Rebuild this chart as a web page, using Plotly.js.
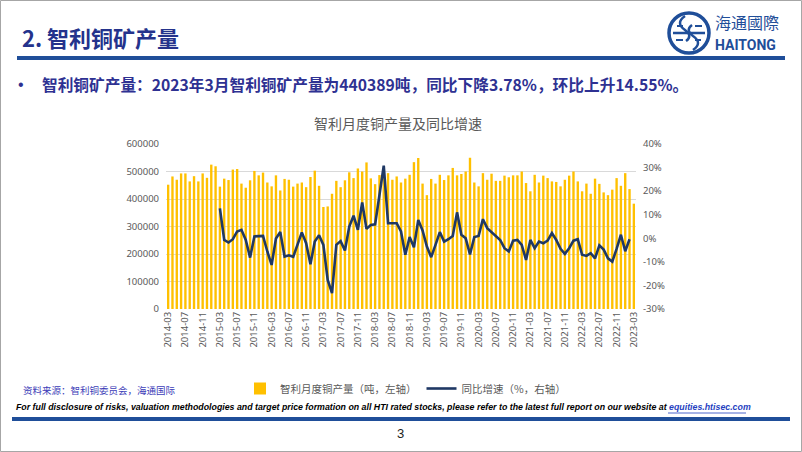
<!DOCTYPE html>
<html>
<head>
<meta charset="utf-8">
<script src="https://cdn.plot.ly/plotly-3.0.1.min.js"></script>
<style>
  html, body { margin: 0; padding: 0; background: #ffffff; }
  #chart { width: 802px; height: 452px; }
</style>
</head>
<body>
<div id="chart"></div>
<script>
// ---------- DATA ----------
const months = [
  "2014-03","2014-04","2014-05","2014-06","2014-07","2014-08","2014-09","2014-10","2014-11","2014-12",
  "2015-01","2015-02","2015-03","2015-04","2015-05","2015-06","2015-07","2015-08","2015-09","2015-10","2015-11","2015-12",
  "2016-01","2016-02","2016-03","2016-04","2016-05","2016-06","2016-07","2016-08","2016-09","2016-10","2016-11","2016-12",
  "2017-01","2017-02","2017-03","2017-04","2017-05","2017-06","2017-07","2017-08","2017-09","2017-10","2017-11","2017-12",
  "2018-01","2018-02","2018-03","2018-04","2018-05","2018-06","2018-07","2018-08","2018-09","2018-10","2018-11","2018-12",
  "2019-01","2019-02","2019-03","2019-04","2019-05","2019-06","2019-07","2019-08","2019-09","2019-10","2019-11","2019-12",
  "2020-01","2020-02","2020-03","2020-04","2020-05","2020-06","2020-07","2020-08","2020-09","2020-10","2020-11","2020-12",
  "2021-01","2021-02","2021-03","2021-04","2021-05","2021-06","2021-07","2021-08","2021-09","2021-10","2021-11","2021-12",
  "2022-01","2022-02","2022-03","2022-04","2022-05","2022-06","2022-07","2022-08","2022-09","2022-10","2022-11","2022-12",
  "2023-01","2023-02","2023-03"
];

// 智利月度铜产量（吨）
const production = [
  452000, 482000, 470000, 493000, 493000, 464000, 483000, 464000, 493000, 477000,
  525000, 519000, 445000, 474000, 469000, 507000, 509000, 456000, 441000, 468000, 502000, 486000,
  496000, 460000, 446000, 486000, 431000, 473000, 470000, 445000, 456000, 460000, 443000, 480000,
  503000, 448000, 371000, 373000, 419000, 466000, 443000, 468000, 497000, 476000, 511000, 500000,
  533000, 475000, 454000, 487000, 498000, 494000, 470000, 482000, 460000, 474000, 488000, 534000,
  549000, 456000, 414000, 473000, 456000, 488000, 469000, 486000, 513000, 486000, 491000, 500000,
  550000, 460000, 446000, 494000, 470000, 492000, 466000, 466000, 485000, 479000, 486000, 486000,
  500000, 458000, 428000, 488000, 460000, 485000, 476000, 464000, 462000, 446000, 470000, 485000,
  500000, 464000, 428000, 456000, 419000, 474000, 455000, 424000, 414000, 434000, 476000, 448000,
  494000, 436000, 383000
];

// 同比增速（%）
const yoy = [
  null, null, null, null, null, null, null, null, null, null,
  null, null, 12.7, -0.7, -1.8, -0.4, 2.9, 3.6, -0.7, -8.2, 0.8, 0.8,
  1.0, -5.6, -11.3, -0.1, 2.7, -7.8, -7.2, -7.9, -2.8, 2.5, -2.1, -11.0,
  -1.4, 1.3, -2.8, -17.7, -23.3, -2.8, -1.2, -5.2, 5.0, 9.6, 3.6, 15.2,
  4.0, 5.6, 5.9, 19.0, 30.8, 6.4, 6.4, 6.4, 2.9, -7.0, 0.5, -3.8,
  7.8, 3.3, -3.5, -8.0, -2.8, 2.6, -1.4, -0.4, 1.0, 11.0, 1.5, 0.0,
  -6.8, 0.5, 1.0, 8.1, 4.3, 2.6, 1.0, -0.7, -4.2, -5.6, -1.0, -0.7,
  -2.8, -9.2, -0.7, -4.2, -1.4, -2.1, -1.0, 2.2, -0.7, -4.5, -6.6, -4.2,
  -1.0, -0.4, -7.0, -7.5, -6.3, -8.5, -3.0, -4.8, -8.5, -9.9, -4.5, 1.5,
  -5.5, -0.4, null
];

const xTickLabels = [
  "2014-03","2014-07","2014-11","2015-03","2015-07","2015-11","2016-03","2016-07","2016-11",
  "2017-03","2017-07","2017-11","2018-03","2018-07","2018-11","2019-03","2019-07","2019-11",
  "2020-03","2020-07","2020-11","2021-03","2021-07","2021-11","2022-03","2022-07","2022-11","2023-03"
];
const leftTickVals = [0, 100000, 200000, 300000, 400000, 500000, 600000];
const rightTickVals = [-30, -20, -10, 0, 10, 20, 30, 40];
const rightTickText = ["-30%", "-20%", "-10%", "0%", "10%", "20%", "30%", "40%"];

const seriesNames = ["智利月度铜产量（吨，左轴）", "同比增速（%，右轴）"];
const pageTitle = "2. 智利铜矿产量";
const bulletText = "智利铜矿产量：2023年3月智利铜矿产量为440389吨，同比下降3.78%，环比上升14.55%。";
const chartTitle = "智利月度铜产量及同比增速";
const sourceText = "资料来源：智利铜委员会，海通国际";
const disclaimer = "For full disclosure of risks, valuation methodologies and target price formation on all HTI rated stocks, please refer to the latest full report on our website at ";
const linkText = "equities.htisec.com";
const pageNumber = "3";

// ---------- LAYOUT HELPERS ----------
const W = 802, H = 452, ML = 166, MR = 166, MT = 144, MB = 143;
const PW = W - ML - MR, PH = H - MT - MB;
const px = x => (x - ML) / PW;
const py = y => (H - MB - y) / PH;

const BLUE = "#1F4E99";
const CJK = "'Noto Sans CJK SC', 'Noto Sans', sans-serif";

function ann(text, x, y, opts) {
  return Object.assign({
    text: text, xref: "paper", yref: "paper", x: px(x), y: py(y),
    showarrow: false, xanchor: "left", yanchor: "middle"
  }, opts);
}

// logo path helper (pixel coords -> paper)
function P(cmds) {
  return cmds.map(c => typeof c === "string" ? c : (px(c[0]).toFixed(5) + "," + py(c[1]).toFixed(5))).join(" ");
}

const cx = 689, cy = 33, r = 20;

const shapes = [
  // page border
  {type: "rect", xref: "paper", yref: "paper", x0: px(0.5), x1: px(801.5), y0: py(0.5), y1: py(451.5),
   line: {color: "#a6a6a6", width: 1}, fillcolor: "rgba(0,0,0,0)"},
  // header rule
  {type: "rect", xref: "paper", yref: "paper", x0: px(17), x1: px(785), y0: py(56), y1: py(60),
   line: {width: 0}, fillcolor: BLUE},
  // footer rule
  {type: "rect", xref: "paper", yref: "paper", x0: px(12), x1: px(790), y0: py(417), y1: py(421),
   line: {width: 0}, fillcolor: BLUE},
  // logo ring
  {type: "circle", xref: "paper", yref: "paper", x0: px(cx - r), x1: px(cx + r), y0: py(cy + r), y1: py(cy - r),
   line: {color: BLUE, width: 3.5}, fillcolor: "rgba(0,0,0,0)"},
  // logo inner pattern
  {type: "path", xref: "paper", yref: "paper", line: {color: BLUE, width: 2.5},
   path: P(["M", [cx - 16, cy], "L", [cx + 16, cy]])},
  {type: "path", xref: "paper", yref: "paper", line: {color: BLUE, width: 2.5},
   path: P(["M", [cx - 4, cy - 17], "Q", [cx - 14, cy - 10], [cx - 4, cy - 3], "Q", [cx + 4, cy + 3], [cx - 3, cy + 8]])},
  {type: "path", xref: "paper", yref: "paper", line: {color: BLUE, width: 2.5},
   path: P(["M", [cx + 4, cy + 17], "Q", [cx + 14, cy + 10], [cx + 4, cy + 3], "Q", [cx - 4, cy - 3], [cx + 3, cy - 8]])},
  {type: "path", xref: "paper", yref: "paper", line: {color: BLUE, width: 2},
   path: P(["M", [cx - 12, cy - 7], "L", [cx - 6, cy - 7], "M", [cx + 6, cy + 7], "L", [cx + 12, cy + 7],
            "M", [cx + 6, cy - 7], "L", [cx + 13, cy - 7], "M", [cx - 13, cy + 7], "L", [cx - 6, cy + 7]])},
  // underline for link
  {type: "line", xref: "paper", yref: "paper", x0: px(668), x1: px(746), y0: py(413), y1: py(413),
   line: {color: "#1f3fbf", width: 0.8}}
];

const annotations = [
  ann(pageTitle, 20, 37, {font: {family: CJK, size: 22, color: "#24338C", weight: "bold"}}),
  ann("海通國際", 713, 22, {font: {family: CJK, size: 16, color: BLUE}}),
  ann("HAITONG", 713, 45, {font: {family: "Roboto, 'Liberation Sans', sans-serif", size: 14, color: BLUE, weight: "bold"}}),
  ann("•", 16, 85, {font: {family: "'Liberation Sans', sans-serif", size: 16, color: "#2E3192"}}),
  ann(bulletText, 40, 85, {font: {family: CJK, size: 15.7, color: "#2E3192", weight: "bold"}}),
  ann(chartTitle, 398, 123, {xanchor: "center", font: {family: CJK, size: 14, color: "#595959"}}),
  ann(sourceText, 21, 390, {font: {family: CJK, size: 9.5, color: "#3D3DB8"}}),
  ann("<b><i>" + disclaimer + "<span style='fill:#1f3fbf'>" + linkText + "</span></i></b>", 14, 407,
      {font: {family: "'Liberation Sans', sans-serif", size: 8.8, color: "#000000"}}),
  ann(pageNumber, 400, 433, {xanchor: "center", font: {family: "'Liberation Sans', sans-serif", size: 13, color: "#222222"}})
];

const traces = [
  {
    type: "bar", name: seriesNames[0], x: months, y: production,
    marker: {color: "#FFC000"}, yaxis: "y", hoverinfo: "skip"
  },
  {
    type: "scatter", mode: "lines", name: seriesNames[1], x: months, y: yoy,
    line: {color: "#1F3864", width: 2.6}, yaxis: "y2", connectgaps: false, hoverinfo: "skip"
  }
];

const layout = {
  width: W, height: H,
  margin: {l: ML, r: MR, t: MT, b: MB, pad: 0},
  paper_bgcolor: "#ffffff", plot_bgcolor: "#ffffff",
  font: {family: CJK, color: "#595959"},
  bargap: 0.45,
  showlegend: true,
  legend: {
    orientation: "h", x: px(240), y: py(374), xanchor: "left", yanchor: "top",
    font: {family: CJK, size: 10.5, color: "#595959"}, bgcolor: "rgba(0,0,0,0)",
    itemwidth: 30, tracegroupgap: 0
  },
  xaxis: {
    type: "category", range: [-0.5, months.length - 0.5],
    tickmode: "array", tickvals: xTickLabels, ticktext: xTickLabels,
    tickangle: -90, ticks: "", showgrid: false, showline: false, zeroline: false,
    tickfont: {family: "'Noto Sans', sans-serif", size: 9.5, color: "#595959"}
  },
  yaxis: {
    range: [0, 600000], tickmode: "array", tickvals: leftTickVals, tickformat: "d",
    showgrid: true, gridcolor: "#D9D9D9", gridwidth: 1, zeroline: false, showline: false,
    ticks: "", ticklabelstandoff: 6,
    tickfont: {family: "'Noto Sans', sans-serif", size: 9.5, color: "#595959"}
  },
  yaxis2: {
    overlaying: "y", side: "right", range: [-30, 40],
    tickmode: "array", tickvals: rightTickVals, ticktext: rightTickText,
    showgrid: false, zeroline: false, showline: false, ticks: "", ticklabelstandoff: 6,
    tickfont: {family: "'Noto Sans', sans-serif", size: 9.5, color: "#595959"}
  },
  shapes: shapes,
  annotations: annotations
};

Plotly.newPlot("chart", traces, layout, {staticPlot: true, displayModeBar: false});
</script>
</body>
</html>
